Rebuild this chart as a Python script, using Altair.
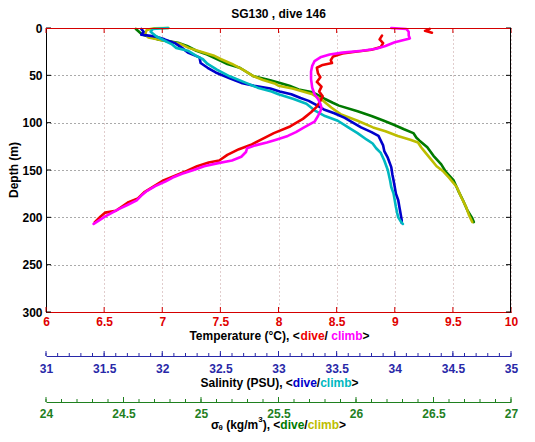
import altair as alt
import pandas as pd

# ---------------- data ----------------
TITLE = "SG130 , dive 146"
temp_ticks = [6, 6.5, 7, 7.5, 8, 8.5, 9, 9.5, 10]
sal_ticks = [31, 31.5, 32, 32.5, 33, 33.5, 34, 34.5, 35]
sig_ticks = [24, 24.5, 25, 25.5, 26, 26.5, 27]
depth_ticks = [0, 50, 100, 150, 200, 250, 300]
sal_minor = [round(31 + k * 0.1, 1) for k in range(41)]
sig_minor = [round(24 + k * 0.1, 1) for k in range(31)]

# temperature, dive (red)
td_depth = [1, 3, 5, 8, 12, 16, 20, 23, 25, 27, 30, 34, 37, 39, 42, 48, 52, 57, 62, 67,
            72, 77, 83, 89, 96, 104, 111, 118, 123, 128, 134, 140, 142, 146, 151, 156, 161, 167, 173, 180,
            184, 188, 193, 195, 199, 205]
td_T = [9.30, 9.26, 9.32, 8.89, 8.87, 8.90, 8.88, 8.80, 8.66, 8.55, 8.47, 8.45, 8.46, 8.38, 8.33, 8.34, 8.36, 8.33, 8.37, 8.35,
        8.38, 8.36, 8.33, 8.28, 8.21, 8.10, 7.96, 7.85, 7.77, 7.66, 7.56, 7.49, 7.40, 7.30, 7.21, 7.11, 7.01, 6.93, 6.85, 6.79,
        6.71, 6.66, 6.60, 6.51, 6.47, 6.42]
td_seg = [0, 0, 0] + [1] * (len(td_depth) - 3)
# temperature, climb (magenta)
tc_depth = [0, 1, 4, 8, 11, 15, 19, 22, 24, 26, 28, 31, 35, 40, 46, 54, 63, 70, 75, 80,
            84, 88, 93, 99, 105, 110, 114, 118, 121, 124, 127, 131, 136, 140, 143, 146, 150, 154, 158, 162,
            167, 172, 177, 182, 187, 191, 195, 199, 203, 207]
tc_T = [8.97, 9.10, 9.12, 9.12, 9.13, 9.00, 8.92, 8.84, 8.72, 8.55, 8.44, 8.36, 8.31, 8.29, 8.28, 8.28, 8.29, 8.31, 8.34, 8.36,
        8.37, 8.36, 8.34, 8.31, 8.22, 8.15, 8.08, 7.98, 7.90, 7.80, 7.73, 7.72, 7.68, 7.60, 7.47, 7.36, 7.27, 7.17, 7.09, 7.03,
        6.94, 6.87, 6.82, 6.78, 6.70, 6.63, 6.57, 6.51, 6.46, 6.41]
# salinity, dive (blue)
sd_depth = [1, 4, 7, 9, 12, 16, 21, 26, 31, 37, 42, 47, 53, 58, 61, 64, 67, 70, 74, 77,
            81, 86, 90, 95, 100, 105, 110, 114, 119, 124, 130, 137, 147, 155, 161, 168, 175, 182, 189, 196,
            203, 206]
sd_S = [31.82, 31.84, 31.82, 31.94, 32.02, 32.11, 32.17, 32.22, 32.32, 32.33, 32.39, 32.46, 32.58, 32.68, 32.79, 32.93, 33.01, 33.11, 33.19, 33.26,
        33.32, 33.39, 33.48, 33.57, 33.64, 33.71, 33.80, 33.86, 33.88, 33.90, 33.91, 33.94, 33.97, 33.98, 33.99, 34.00, 34.01, 34.03, 34.04, 34.05,
        34.06, 34.06]
# salinity, climb (cyan)
sc_depth = [0, 0.5, 1, 4, 9, 14, 17, 21, 24, 30, 33, 38, 44, 51, 58, 63, 67, 70, 75, 80,
            87, 93, 98, 105, 111, 118, 122, 127, 132, 140, 150, 161, 168, 175, 182, 189, 195, 200, 204, 207]
sc_S = [32.05, 31.98, 31.92, 31.90, 31.95, 32.03, 32.08, 32.12, 32.22, 32.30, 32.35, 32.39, 32.47, 32.58, 32.72, 32.82, 32.94, 33.00, 33.13, 33.24,
        33.31, 33.40, 33.51, 33.60, 33.68, 33.76, 33.81, 33.84, 33.88, 33.91, 33.94, 33.96, 33.97, 33.99, 34.00, 34.01, 34.02, 34.03, 34.05, 34.07]
# sigma-theta, dive (green)
gd_depth = [1, 4, 7, 12, 16, 19, 24, 28, 35, 38, 42, 47, 51, 55, 58, 61, 65, 68, 72, 75,
            79, 82, 88, 93, 98, 102, 107, 111, 116, 119, 126, 135, 144, 152, 161, 172, 182, 193, 201, 205]
gd_sig = [24.58, 24.60, 24.62, 24.72, 24.86, 24.91, 24.97, 25.04, 25.13, 25.17, 25.25, 25.30, 25.34, 25.44, 25.51, 25.57, 25.63, 25.72, 25.77, 25.80,
          25.85, 25.89, 26.01, 26.10, 26.18, 26.24, 26.31, 26.37, 26.39, 26.41, 26.46, 26.50, 26.55, 26.58, 26.63, 26.66, 26.69, 26.72, 26.75, 26.76]
# sigma-theta, climb (olive)
gc_depth = [0, 0.3, 2, 6, 10, 13, 17, 21, 25, 29, 33, 38, 44, 51, 55, 59, 61, 64, 70, 77,
            84, 91, 98, 105, 109, 114, 118, 121, 126, 130, 138, 146, 151, 158, 168, 179, 189, 198, 205]
gc_sig = [24.79, 24.70, 24.65, 24.64, 24.66, 24.75, 24.87, 24.92, 25.00, 25.08, 25.13, 25.20, 25.27, 25.34, 25.40, 25.48, 25.50, 25.59, 25.72, 25.79,
          25.84, 25.90, 26.01, 26.11, 26.19, 26.27, 26.35, 26.40, 26.42, 26.44, 26.48, 26.52, 26.56, 26.60, 26.65, 26.68, 26.71, 26.73, 26.75]

# ---------------- styling ----------------
W, H = 465, 284
FONT = "Liberation Sans"
BLACK = "#000000"
RED, MAGENTA = "#ee0000", "#ff00ff"
BLUE, CYAN = "#0000cc", "#00b8c0"
GREEN, OLIVE = "#007a00", "#bdbd00"
T_AX, S_AX, G_AX = "#d40000", "#2828a8", "#1f801f"
SAL_OFF, SIG_OFF = 44, 90


def prof(depth, vals, cast, seg=None):
    return pd.DataFrame({"depth": depth, "v": vals, "cast": cast,
                         "i": list(range(len(depth))),
                         "seg": seg if seg is not None else [0] * len(depth)})


temp_df = pd.concat([prof(td_depth, td_T, "dive", td_seg), prof(tc_depth, tc_T, "climb")])
sal_df = pd.concat([prof(sd_depth, sd_S, "dive"), prof(sc_depth, sc_S, "climb")])
sig_df = pd.concat([prof(gd_depth, gd_sig, "dive"), prof(gc_depth, gc_sig, "climb")])

yscale = alt.Scale(domain=[0, 300], reverse=True, nice=False, zero=False)


def xs(dom):
    return alt.Scale(domain=dom, nice=False, zero=False)


def bottom_axis(vals, color, lblcolor, offset, pad, grid=False):
    kw = dict(orient="bottom", values=vals, format="~g", ticks=False, tickSize=0,
              domain=True, domainColor=color, domainWidth=1,
              labelColor=lblcolor, labelFont=FONT, labelFontSize=12, labelFontWeight="bold",
              labelPadding=pad, labelFlush=False, labelOverlap=False, title=None,
              offset=offset, grid=grid)
    if grid:
        kw.update(gridColor="#c39b9b", gridDash=[1, 3], gridWidth=1)
    return alt.Axis(**kw)


def y_axis():
    return alt.Axis(orient="left", values=depth_ticks, format="d", ticks=False, tickSize=0,
                    domain=True, domainColor=BLACK, labelColor=BLACK, labelFont=FONT,
                    labelFontSize=12, labelFontWeight="bold", labelPadding=4, labelFlush=False,
                    labelOverlap=False, title=None, grid=True, gridColor="#555555",
                    gridDash=[1, 3], gridWidth=1)


def line_layer(df, dom, colors, axis):
    return alt.Chart(df).mark_line(strokeWidth=2.6, strokeCap="round", strokeJoin="round").encode(
        x=alt.X("v:Q", scale=xs(dom), axis=axis),
        y=alt.Y("depth:Q", scale=yscale, axis=y_axis()),
        color=alt.Color("cast:N", scale=alt.Scale(domain=["dive", "climb"], range=colors), legend=None),
        detail="seg:N",
        order="i:Q",
    )


sig_lines = line_layer(sig_df, [24, 27], [GREEN, OLIVE], bottom_axis(sig_ticks, G_AX, G_AX, SIG_OFF, 6))
sal_lines = line_layer(sal_df, [31, 35], [BLUE, CYAN], bottom_axis(sal_ticks, S_AX, S_AX, SAL_OFF, 7))
temp_lines = line_layer(temp_df, [6, 10], [RED, MAGENTA],
                        bottom_axis(temp_ticks, T_AX, "#e00000", 0, 4, grid=True))


def xticks(vals, dom, y0, y1, color):
    return alt.Chart(pd.DataFrame({"t": vals})).mark_rule(color=color, strokeWidth=1).encode(
        x=alt.X("t:Q", scale=xs(dom), axis=None), y=alt.value(y0), y2=alt.value(y1))


def yticks(x0, x1):
    return alt.Chart(pd.DataFrame({"depth": depth_ticks})).mark_rule(color=BLACK, strokeWidth=1).encode(
        y=alt.Y("depth:Q", scale=yscale, axis=y_axis()), x=alt.value(x0), x2=alt.value(x1))


deco = [
    xticks(temp_ticks, [6, 10], 0, 5, T_AX),
    xticks(temp_ticks, [6, 10], H - 5, H, T_AX),
    xticks(sal_minor, [31, 35], H + SAL_OFF, H + SAL_OFF - 3, S_AX),
    xticks(sal_ticks, [31, 35], H + SAL_OFF, H + SAL_OFF - 5, S_AX),
    xticks(sig_minor, [24, 27], H + SIG_OFF, H + SIG_OFF - 3, G_AX),
    xticks(sig_ticks, [24, 27], H + SIG_OFF, H + SIG_OFF - 5, G_AX),
    yticks(0, 5),
    yticks(W - 5, W),
    alt.Chart(alt.Data(values=[{}])).mark_rule(color=T_AX).encode(
        x=alt.value(0), x2=alt.value(W), y=alt.value(0.5)),
    alt.Chart(alt.Data(values=[{}])).mark_rule(color=BLACK).encode(
        x=alt.value(W - 0.5), y=alt.value(0), y2=alt.value(H)),
]

# ---------------- text: title, y title, coloured axis titles ----------------
CW = {' ': 278, '(': 333, ')': 333, ',': 278, '<': 584, '>': 584, '/': 278, '°': 400,
      'T': 611, 'e': 556, 'm': 889, 'p': 611, 'r': 389, 'a': 556, 't': 333, 'u': 611,
      'C': 722, 'd': 611, 'i': 278, 'v': 556, 'c': 556, 'l': 278, 'b': 611, 'S': 667,
      'n': 611, 'y': 556, 'P': 667, 'U': 722, 'k': 556, 'g': 611, '3': 556,
      'σ': 617, 'θ': 556}


def tw(s, size):
    return sum(CW.get(ch, 556) for ch in s) * size / 1000.0


def text_mark(txt, x, y, color=BLACK, size=12, align="left", angle=0, dy=0):
    kw = dict(text=txt, align=align, baseline="middle", font=FONT, fontSize=size,
              fontWeight="bold", color=color, dy=dy)
    if angle:
        kw["angle"] = angle
    return alt.Chart(alt.Data(values=[{}])).mark_text(**kw).encode(x=alt.value(x), y=alt.value(y))


def multi(pieces, cx, y):
    norm = [p if len(p) == 4 else (p[0], p[1], 12, 0) for p in pieces]
    total = sum(tw(t, s) for t, c, s, d in norm)
    x = cx - total / 2.0
    out = []
    for t, c, s, d in norm:
        lead = t[: len(t) - len(t.lstrip())]
        core = t.strip()
        out.append(text_mark(core, x + tw(lead, s), y, c, s, dy=d))
        x += tw(t, s)
    return out


CX = W / 2.0
texts = [text_mark(TITLE, CX, -14, align="center"),
         text_mark("Depth (m)", -32, H / 2.0, align="center", angle=270)]
texts += multi([("Temperature (°C), <", BLACK), ("dive", RED), ("/ ", BLACK),
                ("climb", MAGENTA), (">", BLACK)], CX + 1, 308)
texts += multi([("Salinity (PSU), <", BLACK), ("dive", BLUE), ("/", BLACK),
                ("climb", CYAN), (">", BLACK)], CX + 1, 355)
texts += multi([("σ", BLACK, 12, 0), ("θ", BLACK, 8, 3), (" (kg/m", BLACK, 12, 0), ("3", BLACK, 8, -5),
                ("), <", BLACK, 12, 0), ("dive", GREEN, 12, 0), ("/", BLACK, 12, 0),
                ("climb", OLIVE, 12, 0), (">", BLACK, 12, 0)], CX, 397)

chart = alt.layer(sig_lines, sal_lines, temp_lines, *deco, *texts).resolve_scale(
    x="independent", color="independent"
).properties(
    width=W, height=H,
    autosize=alt.AutoSizeParams(type="none"),
    padding={"left": 38, "top": 20, "right": 16, "bottom": 122},
).configure_view(stroke=None)

chart.save("out.html", embed_options={"renderer": "svg", "actions": False})
